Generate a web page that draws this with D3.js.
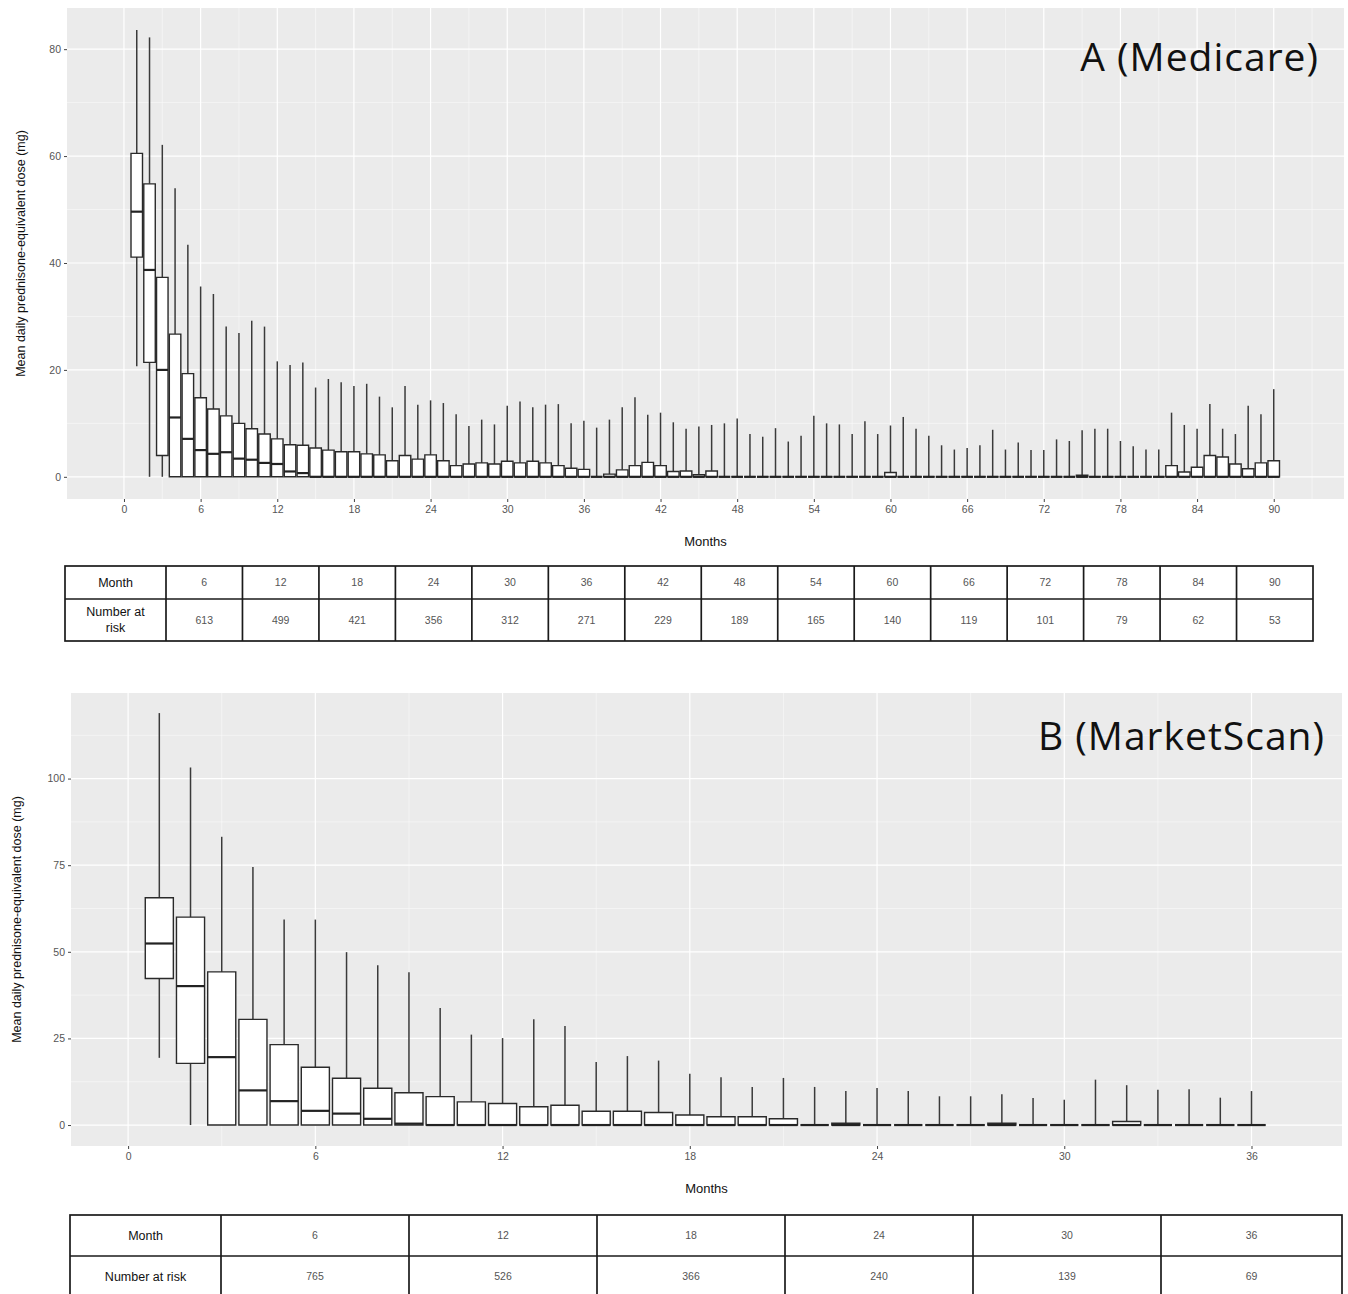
<!DOCTYPE html>
<html>
<head>
<meta charset="utf-8">
<script src="https://cdn.jsdelivr.net/npm/d3@7"></script>
<style>
  body { margin: 0; background: #fff; }
  svg { display: block; font-family: "Liberation Sans", Arial, sans-serif; }
</style>
</head>
<body>
<svg id="chart" width="1348" height="1294"></svg>
<script>
// ---- Panel A (Medicare): monthly box plots, months 1..90
var monthsA = d3.range(1, 91);
var hiA = [83.6, 82.2, 62.1, 54.0, 43.4, 35.6, 34.2, 28.1, 26.9, 29.2,
           28.1, 21.6, 20.9, 21.4, 16.7, 18.3, 17.7, 17.0, 17.4, 15.0,
           13.0, 17.0, 13.5, 14.3, 13.8, 11.7, 9.5, 10.7, 9.8, 13.3,
           14.1, 13.0, 13.5, 13.6, 10.0, 10.5, 9.2, 10.7, 13.0, 14.9,
           11.6, 12.0, 10.2, 9.0, 9.4, 9.7, 10.0, 10.9, 8.0, 7.5,
           9.1, 6.6, 7.7, 11.4, 10.0, 9.8, 8.0, 10.4, 8.0, 9.6,
           11.2, 9.0, 7.7, 5.9, 5.1, 5.4, 5.9, 8.8, 5.1, 6.4,
           5.0, 5.0, 7.0, 6.7, 8.7, 9.0, 9.0, 6.7, 5.7, 5.1,
           5.1, 12.0, 9.7, 9.0, 13.6, 9.0, 8.0, 13.3, 11.7, 16.4];
var q3A = [60.5, 54.8, 37.3, 26.7, 19.3, 14.8, 12.7, 11.4, 10.0, 9.0,
           8.0, 7.1, 6.0, 5.9, 5.4, 5.0, 4.7, 4.7, 4.3, 4.1,
           3.0, 4.0, 3.3, 4.1, 3.0, 2.1, 2.4, 2.6, 2.4, 2.9,
           2.6, 2.9, 2.6, 2.1, 1.6, 1.4, 0, 0.5, 1.3, 2.1,
           2.7, 2.1, 1.0, 1.1, 0.4, 1.1, 0, 0, 0, 0,
           0, 0, 0, 0, 0, 0, 0, 0, 0, 0.8,
           0, 0, 0, 0, 0, 0, 0, 0, 0, 0,
           0, 0, 0, 0, 0.3, 0, 0, 0, 0, 0,
           0, 2.1, 0.9, 1.8, 4.0, 3.7, 2.4, 1.5, 2.6, 3.0];
var medA = [49.6, 38.7, 20.0, 11.1, 7.1, 5.0, 4.3, 4.6, 3.4, 3.2,
            2.6, 2.4, 1.0, 0.7];   // later months: 0
var q1A = [41.1, 21.4, 4.0];      // later months: 0
var loA = [20.7];                 // later months: 0
var yTicksA = [0, 20, 40, 60, 80];
var xTicksA = [0, 6, 12, 18, 24, 30, 36, 42, 48, 54, 60, 66, 72, 78, 84, 90];
var tableMonthsA = ["6", "12", "18", "24", "30", "36", "42", "48", "54", "60", "66", "72", "78", "84", "90"];
var atRiskA = ["613", "499", "421", "356", "312", "271", "229", "189", "165", "140", "119", "101", "79", "62", "53"];

// ---- Panel B (MarketScan): months 1..36
var monthsB = d3.range(1, 37);
var hiB = [118.9, 103.2, 83.2, 74.5, 59.3, 59.3, 49.9, 46.1, 44.1, 33.8,
           26.1, 25.1, 30.5, 28.6, 18.2, 19.9, 18.6, 14.8, 13.8, 11.0,
           13.6, 11.0, 9.8, 10.7, 9.8, 8.3, 8.3, 8.9, 7.8, 7.3,
           13.1, 11.5, 10.2, 10.3, 7.9, 9.8];
var q3B = [65.6, 60.0, 44.2, 30.5, 23.2, 16.7, 13.5, 10.6, 9.3, 8.2,
           6.7, 6.2, 5.3, 5.7, 4.0, 4.0, 3.6, 2.9, 2.4, 2.4,
           1.8, 0, 0.5, 0, 0, 0, 0, 0.5, 0, 0,
           0, 1.0, 0, 0, 0, 0];
var medB = [52.4, 40.1, 19.6, 10.0, 6.9, 4.1, 3.3, 1.8, 0.4];  // later months: 0
var q1B = [42.3, 17.8];
var loB = [19.4];
var yTicksB = [0, 25, 50, 75, 100];
var xTicksB = [0, 6, 12, 18, 24, 30, 36];
var tableMonthsB = ["6", "12", "18", "24", "30", "36"];
var atRiskB = ["765", "526", "366", "240", "139", "69"];

function boxes(months, hi, q3, med, q1, lo) {
  return months.map(function (m, i) {
    return { m: m, hi: hi[i], q3: q3[i], med: med[i] || 0, q1: q1[i] || 0, lo: lo[i] || 0 };
  });
}

var svg = d3.select("#chart");

function drawPanel(p) {
  var g = svg.append("g");
  var x = d3.scaleLinear().domain(p.xDomain).range([p.left, p.right]);
  var y = d3.scaleLinear().domain(p.yDomain).range([p.bottom, p.top]);

  g.append("rect")
    .attr("x", p.left).attr("y", p.top)
    .attr("width", p.right - p.left).attr("height", p.bottom - p.top)
    .attr("fill", "#ebebeb");

  // minor grid
  g.selectAll(".xmin").data(p.xMinor).enter().append("line")
    .attr("x1", function (d) { return x(d); }).attr("x2", function (d) { return x(d); })
    .attr("y1", p.top).attr("y2", p.bottom)
    .attr("stroke", "#fafafa").attr("stroke-width", 0.6);
  g.selectAll(".ymin").data(p.yMinor).enter().append("line")
    .attr("y1", function (d) { return y(d); }).attr("y2", function (d) { return y(d); })
    .attr("x1", p.left).attr("x2", p.right)
    .attr("stroke", "#fafafa").attr("stroke-width", 0.6);
  // major grid
  g.selectAll(".xmaj").data(p.xTicks).enter().append("line")
    .attr("x1", function (d) { return x(d); }).attr("x2", function (d) { return x(d); })
    .attr("y1", p.top).attr("y2", p.bottom)
    .attr("stroke", "#fff").attr("stroke-width", 1.2);
  g.selectAll(".ymaj").data(p.yTicks).enter().append("line")
    .attr("y1", function (d) { return y(d); }).attr("y2", function (d) { return y(d); })
    .attr("x1", p.left).attr("x2", p.right)
    .attr("stroke", "#fff").attr("stroke-width", 1.2);

  // axes
  var ya = g.append("g").attr("transform", "translate(" + p.left + ",0)")
    .call(d3.axisLeft(y).tickValues(p.yTicks).tickSize(3).tickPadding(3));
  var xa = g.append("g").attr("transform", "translate(0," + p.bottom + ")")
    .call(d3.axisBottom(x).tickValues(p.xTicks).tickSize(3).tickPadding(4));
  [ya, xa].forEach(function (a) {
    a.select(".domain").remove();
    a.selectAll(".tick line").attr("stroke", "#444");
    a.selectAll(".tick text").attr("fill", "#555").style("font-size", "10.5px")
      .style("font-family", "'Liberation Sans', Arial, sans-serif");
  });

  g.append("text")
    .attr("x", (p.left + p.right) / 2).attr("y", p.bottom + 47)
    .attr("text-anchor", "middle").attr("fill", "#111")
    .style("font-size", "13px").text("Months");
  g.append("text")
    .attr("transform", "translate(" + p.yTitleX + "," + ((p.top + p.bottom) / 2) + ") rotate(-90)")
    .attr("text-anchor", "middle").attr("fill", "#111")
    .style("font-size", "12.5px").text("Mean daily prednisone-equivalent dose (mg)");

  // boxes
  var half = x(0.45) - x(0);
  var bx = g.selectAll(".box").data(p.data).enter().append("g");
  bx.append("line")
    .attr("x1", function (d) { return x(d.m); }).attr("x2", function (d) { return x(d.m); })
    .attr("y1", function (d) { return y(d.q3); }).attr("y2", function (d) { return y(d.hi); })
    .attr("stroke", "#3a3a3a").attr("stroke-width", 1.5);
  bx.filter(function (d) { return d.q1 > d.lo; }).append("line")
    .attr("x1", function (d) { return x(d.m); }).attr("x2", function (d) { return x(d.m); })
    .attr("y1", function (d) { return y(d.q1); }).attr("y2", function (d) { return y(d.lo); })
    .attr("stroke", "#3a3a3a").attr("stroke-width", 1.5);
  bx.append("path")
    .attr("d", function (d) {
      var x0 = x(d.m) - half, x1 = x(d.m) + half;
      return "M" + x0 + "," + y(d.q1) + "H" + x1 + "V" + y(d.q3) + "H" + x0 + "Z";
    })
    .attr("fill", "#fff").attr("stroke", "#2a2a2a").attr("stroke-width", 1.4);
  bx.append("line")
    .attr("x1", function (d) { return x(d.m) - half; }).attr("x2", function (d) { return x(d.m) + half; })
    .attr("y1", function (d) { return y(d.med); }).attr("y2", function (d) { return y(d.med); })
    .attr("stroke", "#222").attr("stroke-width", 2.2);

  // panel title
  g.append("text")
    .attr("x", p.titleX).attr("y", p.titleY)
    .attr("text-anchor", "end").attr("fill", "#111")
    .style("font-family", "'Open Sans', Lato, sans-serif")
    .style("font-size", "39px").style("letter-spacing", "1px").text(p.title);
}

function drawTable(t) {
  var g = svg.append("g");
  var col = d3.scaleBand().domain(t.months).range([t.split, t.bandEnd]);
  var stroke = "#1a1a1a";
  g.append("rect")
    .attr("x", t.left).attr("y", t.top)
    .attr("width", t.right - t.left).attr("height", t.bottom - t.top)
    .attr("fill", "none").attr("stroke", stroke).attr("stroke-width", 1.7);
  g.append("line").attr("x1", t.left).attr("x2", t.right)
    .attr("y1", t.mid).attr("y2", t.mid)
    .attr("stroke", stroke).attr("stroke-width", 1.7);
  g.selectAll(".vl").data(t.months).enter().append("line")
    .attr("x1", function (d) { return col(d); }).attr("x2", function (d) { return col(d); })
    .attr("y1", t.top).attr("y2", t.bottom)
    .attr("stroke", stroke).attr("stroke-width", 1.7);

  var cx0 = (t.left + t.split) / 2;
  var r1 = (t.top + t.mid) / 2, r2 = (t.mid + t.bottom) / 2;
  g.append("text").attr("x", cx0).attr("y", r1).attr("dy", "0.35em")
    .attr("text-anchor", "middle").attr("fill", "#111").style("font-size", "12.5px").text("Month");
  var lab = g.append("text").attr("x", cx0).attr("text-anchor", "middle")
    .attr("fill", "#111").style("font-size", "12.5px");
  if (t.twoLine) {
    lab.append("tspan").attr("x", cx0).attr("y", r2 - 8).attr("dy", "0.35em").text("Number at");
    lab.append("tspan").attr("x", cx0).attr("y", r2 + 8).attr("dy", "0.35em").text("risk");
  } else {
    lab.attr("y", r2).attr("dy", "0.35em").text("Number at risk");
  }
  g.selectAll(".mv").data(t.months).enter().append("text")
    .attr("x", function (d) { return Math.min(col(d) + col.bandwidth() / 2, (col(d) + t.right) / 2); })
    .attr("y", r1).attr("dy", "0.35em").attr("text-anchor", "middle")
    .attr("fill", "#555").style("font-size", "10.5px").text(function (d) { return d; });
  g.selectAll(".rv").data(t.risk).enter().append("text")
    .attr("x", function (d, i) { var c = col(t.months[i]); return Math.min(c + col.bandwidth() / 2, (c + t.right) / 2); })
    .attr("y", r2).attr("dy", "0.35em").attr("text-anchor", "middle")
    .attr("fill", "#555").style("font-size", "10.5px").text(function (d) { return d; });
}

drawPanel({
  left: 67, right: 1344, top: 8, bottom: 499,
  xDomain: [-4.46, 95.5], yDomain: [-4.15, 87.7],
  xTicks: xTicksA, yTicks: yTicksA,
  xMinor: [3, 9, 15, 21, 27, 33, 39, 45, 51, 57, 63, 69, 75, 81, 87, 93],
  yMinor: [10, 30, 50, 70],
  yTitleX: 25,
  data: boxes(monthsA, hiA, q3A, medA, q1A, loA),
  title: "A (Medicare)", titleX: 1319, titleY: 71
});
drawTable({
  left: 65, split: 166, right: 1313, bandEnd: 1313, top: 566, mid: 599, bottom: 641,
  months: tableMonthsA, risk: atRiskA, twoLine: true
});

drawPanel({
  left: 71, right: 1342, top: 693, bottom: 1146,
  xDomain: [-1.83, 38.9], yDomain: [-6.05, 124.7],
  xTicks: xTicksB, yTicks: yTicksB,
  xMinor: [3, 9, 15, 21, 27, 33],
  yMinor: [12.5, 37.5, 62.5, 87.5, 112.5],
  yTitleX: 21,
  data: boxes(monthsB, hiB, q3B, medB, q1B, loB),
  title: "B (MarketScan)", titleX: 1325, titleY: 750
});
drawTable({
  left: 70, split: 221, right: 1342, bandEnd: 1349, top: 1215, mid: 1256, bottom: 1297,
  months: tableMonthsB, risk: atRiskB, twoLine: false
});
</script>
</body>
</html>
